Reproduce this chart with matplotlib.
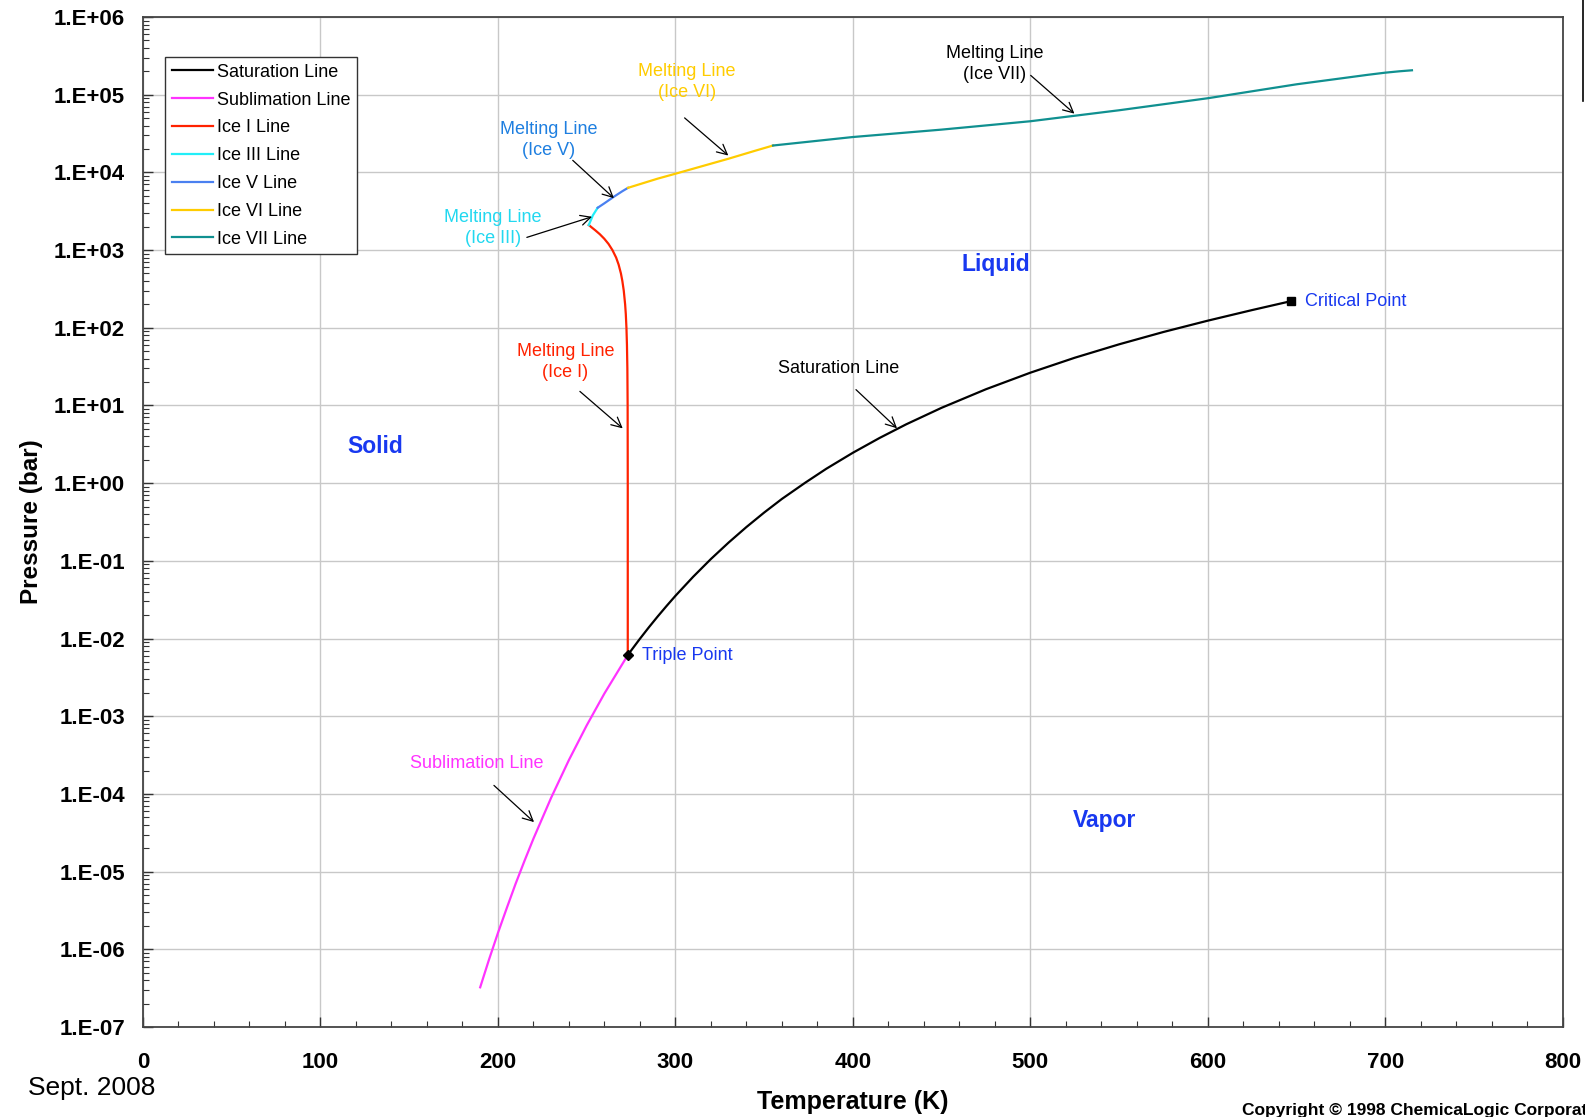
"""
Phase diagram of water (pressure vs temperature), log pressure axis.
"""

import matplotlib.pyplot as plt
import numpy as np
from matplotlib.lines import Line2D
from matplotlib.ticker import FixedLocator, FuncFormatter, LogLocator, MultipleLocator

OUT_PATH = "out.png"

# --- data (T in K, P in bar) ---
sat_T = [273.16, 275, 280, 285, 290, 295, 300, 310, 320, 330, 340, 350, 360, 373.15,
         385, 400, 415, 430, 450, 475, 500, 525, 550, 575, 600, 625, 647.1]
sat_P = [0.00611, 0.00698, 0.00992, 0.0139, 0.0192, 0.0262, 0.0354, 0.0623, 0.1055,
         0.172, 0.272, 0.418, 0.626, 1.013, 1.53, 2.46, 3.81, 5.71, 9.33, 16.17, 26.4,
         41.1, 61.2, 88.2, 123.4, 169.0, 220.6]

sub_T = [190, 195, 200, 205, 210, 215, 220, 230, 240, 250, 260, 273.16]
sub_P = [3.24e-7, 7.4e-7, 1.62e-6, 3.4e-6, 7.01e-6, 1.38e-5, 2.65e-5, 8.94e-5,
         2.73e-4, 7.60e-4, 1.96e-3, 6.11e-3]

ice1_T = [273.16, 273.15, 273.08, 272.93, 272.7, 272.41, 272.05, 271.67, 270.9, 270.1,
          269.3, 268.0, 266.6, 264.5, 262.3, 259.9, 257.4, 254.8, 252.9, 251.2]
ice1_P = [0.00611, 1, 10, 30, 60, 100, 150, 200, 300, 400, 500, 650, 800, 1000, 1200,
          1400, 1600, 1800, 1950, 2099]

ice3_T = [251.2, 253.5, 256.2]
ice3_P = [2099, 2800, 3501]

ice5_T = [256.2, 260, 265, 270, 273.3]
ice5_P = [3501, 4000, 4800, 5700, 6324]

ice6_T = [273.3, 290, 300, 315, 330, 345, 355]
ice6_P = [6324, 8300, 9600, 12000, 15000, 19000, 22160]

ice7_T = [355, 400, 450, 500, 550, 600, 650, 675, 690, 700, 708, 715]
ice7_P = [22160, 28500, 35500, 45500, 63000, 90000, 136000, 162000, 180000, 192000,
          200000, 206000]

triple_pt = (273.16, 0.00611)
critical_pt = (647.1, 220.6)

series = [
    ("Saturation Line", sat_T, sat_P, "#000000"),
    ("Sublimation Line", sub_T, sub_P, "#FF33FF"),
    ("Ice I Line", ice1_T, ice1_P, "#FF2200"),
    ("Ice III Line", ice3_T, ice3_P, "#22EEF8"),
    ("Ice V Line", ice5_T, ice5_P, "#4A80F0"),
    ("Ice VI Line", ice6_T, ice6_P, "#FFCC00"),
    ("Ice VII Line", ice7_T, ice7_P, "#109090"),
]

REGION_BLUE = "#1838F0"


def sci_label(v, pos):
    return f"1.E{int(round(np.log10(v))):+03d}"


def main():
    plt.rcParams["font.family"] = ["Liberation Sans", "DejaVu Sans"]
    fig = plt.figure(figsize=(15.85, 11.17), dpi=100)
    ax = fig.add_axes([0.0902, 0.0806, 0.8958, 0.9042])

    for label, T, P, c in series:
        ax.plot(T, P, color=c, lw=1.6, label=label, zorder=3)

    ax.plot(*triple_pt, marker="D", ms=5, color="black", zorder=4)
    ax.plot(*critical_pt, marker="s", ms=6, color="black", zorder=4)

    ax.set_yscale("log")
    ax.set_xlim(0, 800)
    ax.set_ylim(1e-7, 1e6)

    ax.yaxis.set_major_locator(FixedLocator([10.0 ** k for k in range(-7, 7)]))
    ax.yaxis.set_minor_locator(LogLocator(base=10, subs=np.arange(2, 10), numticks=30))
    ax.yaxis.set_major_formatter(FuncFormatter(sci_label))
    ax.xaxis.set_major_locator(MultipleLocator(100))
    ax.xaxis.set_minor_locator(MultipleLocator(20))

    ax.tick_params(which="both", direction="in", colors="#333333",
                   labelcolor="black", right=False, top=False)
    ax.tick_params(which="major", length=7, width=1)
    ax.tick_params(which="minor", length=4, width=0.8)
    ax.tick_params(axis="y", which="major", pad=13, labelsize=16)
    ax.tick_params(axis="x", which="major", pad=18, labelsize=16)
    for lab in ax.get_xticklabels() + ax.get_yticklabels():
        lab.set_fontweight("bold")

    ax.grid(True, which="major", color="#c8c8c8", lw=1, zorder=0)
    for s in ax.spines.values():
        s.set_color("#444444")
        s.set_linewidth(1.3)

    ax.set_xlabel("Temperature (K)", fontsize=18, fontweight="bold", labelpad=12)
    ax.set_ylabel("Pressure (bar)", fontsize=17.5, fontweight="bold", labelpad=8)

    leg = ax.legend(loc="upper left", bbox_to_anchor=(0.0157, 0.96), borderaxespad=0,
                    fontsize=13, handlelength=2.3, handletextpad=0.2,
                    labelspacing=0.6, borderpad=0.35, fancybox=False,
                    framealpha=1, edgecolor="#333333")
    leg.get_frame().set_linewidth(1)

    # callouts: text, text pos, arrow tail, arrow head, colour
    arrow_kw = dict(arrowstyle="->", color="black", lw=0.9, mutation_scale=18)
    callouts = [
        ("Melting Line\n(Ice VII)", (480, 2.5e5), (499, 1.87e5), (526, 5.4e4), "black"),
        ("Melting Line\n(Ice VI)", (306.5, 1.47e5), (304, 5.3e4), (331, 1.56e4), "#FFCC00"),
        ("Melting Line\n(Ice V)", (228.5, 2.6e4), (241, 1.51e4), (266.5, 4.4e3), "#1E7FE0"),
        ("Melting Line\n(Ice III)", (197, 1.92e3), (214.8, 1.42e3), (254.5, 2.75e3), "#22D8F0"),
        ("Melting Line\n(Ice I)", (238, 35.8), (245, 16), (271.5, 4.8), "#FF2200"),
        ("Saturation Line", (392, 29.9), (400.6, 16.9), (426, 4.8), "black"),
        ("Sublimation Line", (188, 2.47e-4), (196.6, 1.36e-4), (221.5, 4.1e-5), "#FF33FF"),
    ]
    for txt, tpos, tail, head, c in callouts:
        ax.text(*tpos, txt, color=c, fontsize=13, ha="center", va="center",
                linespacing=1.3, zorder=5)
        ax.annotate("", xy=head, xytext=tail, arrowprops=arrow_kw, zorder=5)

    ax.text(281, 6.1e-3, "Triple Point", color=REGION_BLUE, fontsize=13,
            ha="left", va="center")
    ax.text(654.5, 220, "Critical Point", color=REGION_BLUE, fontsize=13,
            ha="left", va="center")

    for txt, pos in [("Liquid", (480.3, 650)), ("Solid", (131, 3.0)), ("Vapor", (542, 4.5e-5))]:
        ax.text(*pos, txt, color=REGION_BLUE, fontsize=16.5, fontweight="bold",
                ha="center", va="center")

    fig.text(0.0179, 0.026, "Sept. 2008", fontsize=19, ha="left", va="center")
    # cut off at the right edge, as in the original export
    fig.text(0.7836, 0.0062, "Copyright © 1998 ChemicaLogic Corporation",
             fontsize=12.5, fontweight="bold", ha="left", va="center")
    fig.add_artist(Line2D([0.9985, 0.9985], [0.91, 1.0], color="black", lw=1.2,
                          transform=fig.transFigure))

    fig.savefig(OUT_PATH, dpi=100)
    print(f"saved {OUT_PATH}")


if __name__ == "__main__":
    main()
